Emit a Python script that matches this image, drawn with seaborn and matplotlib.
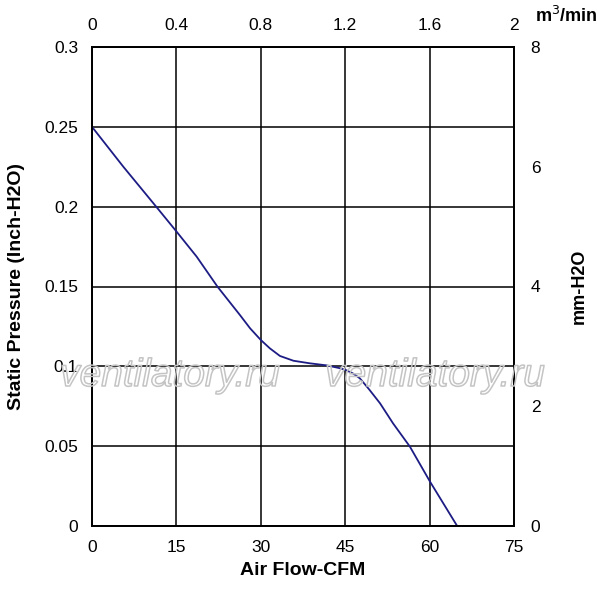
import matplotlib
matplotlib.use("Agg")
import matplotlib.pyplot as plt
import matplotlib.patheffects as pe
import seaborn as sns
import pandas as pd

# Data
cfm = [0, 5.57, 11.5, 14.93, 18.6, 22.3, 26.3, 28.1, 30.0, 31.6, 33.4, 35.8, 38.7, 41.7,
       44.1, 45.1, 46.4, 47.6, 49.2, 51.2, 53.5, 56.5, 60.07, 64.9]
pressure = [0.25, 0.225, 0.1996, 0.1848, 0.1687, 0.1499, 0.1321, 0.1238, 0.1165, 0.1113,
            0.1065, 0.1035, 0.1019, 0.1006, 0.0988, 0.0977, 0.0955, 0.0925, 0.0858, 0.0768,
            0.0643, 0.0497, 0.0278, 0.0]
x_ticks = [0, 15, 30, 45, 60, 75]
y_ticks = [0, 0.05, 0.1, 0.15, 0.2, 0.25, 0.3]
y_tick_labels = ["0", "0.05", "0.1", "0.15", "0.2", "0.25", "0.3"]
top_ticks = [0, 0.4, 0.8, 1.2, 1.6, 2]
top_tick_labels = ["0", "0.4", "0.8", "1.2", "1.6", "2"]
right_ticks = [0, 2, 4, 6, 8]

sns.set_style("white")
plt.rcParams['font.family'] = ['Liberation Sans', 'DejaVu Sans']
plt.rcParams['text.color'] = 'black'
plt.rcParams['axes.labelcolor'] = 'black'
plt.rcParams['xtick.color'] = 'black'
plt.rcParams['ytick.color'] = 'black'

df = pd.DataFrame({"cfm": cfm, "pressure": pressure})

fig = plt.figure(figsize=(5.97, 5.92), dpi=100)
ax = fig.add_axes([92/597, 66/592, 422/597, 479/592])

sns.lineplot(data=df, x="cfm", y="pressure", ax=ax, color="#1c1c84", linewidth=1.3,
             solid_joinstyle="round")

ax.set_xlim(0, 75)
ax.set_ylim(0, 0.3)
ax.set_xticks(x_ticks)
ax.set_yticks(y_ticks)
ax.set_yticklabels(y_tick_labels)
ax.grid(True, color="black", linewidth=1.1)
ax.set_axisbelow(True)
for s in ax.spines.values():
    s.set_color("black")
    s.set_linewidth(1.1)
ax.tick_params(length=0, labelsize=12.5, pad=10)
ax.set_xlabel("Air Flow-CFM", fontsize=14, fontweight="bold", labelpad=5)
ax.set_ylabel("Static Pressure (Inch-H2O)", fontsize=14, fontweight="bold", labelpad=14)

# top axis
axt = ax.twiny()
axt.set_xlim(0, 2)
axt.set_xticks(top_ticks)
axt.set_xticklabels(top_tick_labels)
axt.tick_params(length=0, labelsize=12.5, pad=10)
axt.grid(False)

# right axis
axr = ax.twinx()
axr.set_ylim(0, 8)
axr.set_yticks(right_ticks)
axr.tick_params(length=0, labelsize=12.5, pad=12)
axr.grid(False)
axr.set_ylabel("mm-H2O", fontsize=13, fontweight="bold", labelpad=22)
for a in (axt, axr):
    for s in a.spines.values():
        s.set_color("black")
        s.set_linewidth(1.1)

fig.text(566/597, 1 - 16/592, "m$^3$/min", fontsize=13, fontweight="bold", ha="center", va="center")

# watermark (outlined, transparent fill)
for cx in (170, 435):
    t = fig.text(cx/597, 1 - 376/592, "ventilatory.ru", fontsize=28, style="italic",
                 color=(1, 1, 1, 0), ha="center", va="center", zorder=10)
    t.set_path_effects([pe.Stroke(linewidth=1.1, foreground="#c4c4c4")])

fig.savefig("out.png", dpi=100)
